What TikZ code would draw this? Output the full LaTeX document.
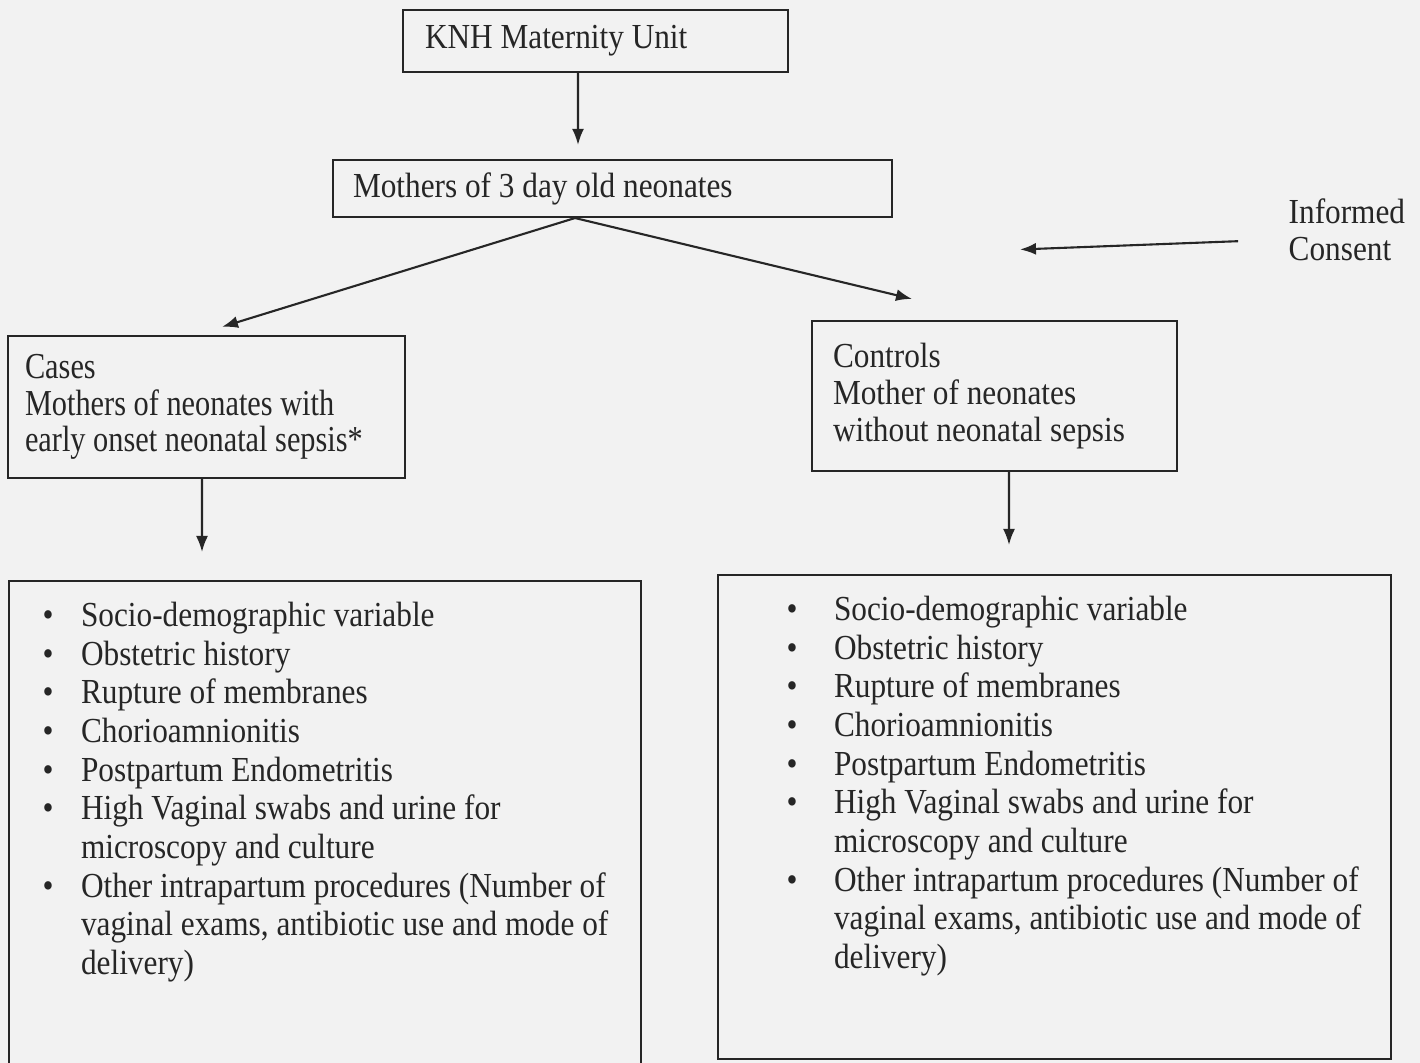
\documentclass[tikz,border=0pt]{standalone}
\usepackage{fontspec}
\setmainfont{Liberation Serif}[FakeStretch=0.89]
\newfontfamily\narrowfont{Liberation Serif}[FakeStretch=0.83]
\usetikzlibrary{arrows.meta,positioning,calc}

% bullet list: #1 left margin, #2 label sep, #3 items
\newcommand{\factorlist}[3]{%
  \begin{list}{\textbullet}{\setlength{\leftmargin}{#1}\setlength{\labelsep}{#2}%
    \settowidth{\labelwidth}{\textbullet}\setlength{\itemsep}{0pt}\setlength{\parsep}{0pt}%
    \setlength{\topsep}{0pt}\setlength{\partopsep}{0pt}}#3\end{list}}

\begin{document}
\begin{tikzpicture}[
    every node/.style={font=\fontsize{10}{10.5}\selectfont, text=black!85},
    box/.style={draw=black!85, line width=0.6pt, rectangle, align=flush left},
    listbox/.style={draw=black!85, line width=0.6pt, rectangle, inner sep=0pt,
      anchor=north west, font=\fontsize{10}{11}\selectfont},
    arr/.style={draw=black!85, line width=0.6pt, -{Latex[length=1.6mm,width=1.2mm]}}]
  \useasboundingbox[fill=black!5] (0,0) rectangle (14.2,10.63);
  % top of the flow
  \node[box, inner xsep=0.22cm, text width=3.41cm, minimum height=0.62cm] (knh) at (5.955,10.22) {KNH Maternity Unit};
  \node[box, inner xsep=0.2cm, text width=5.19cm, minimum height=0.57cm] (mothers) at (6.125,8.745) {Mothers of 3 day old neonates};
  % two groups
  \node[box, inner xsep=0.17cm, text width=3.63cm, minimum height=1.42cm,
    font=\narrowfont\fontsize{10.4}{10.4}\selectfont] (cases) at (2.065,6.56)
    {Cases\\Mothers of neonates with\\early onset neonatal sepsis*};
  \node[box, inner xsep=0.21cm, text width=3.23cm, minimum height=1.5cm] (controls) at (9.945,6.67)
    {Controls\\Mother of neonates\\without neonatal sepsis\\[-0.04cm]};
  \node[align=flush left, anchor=west, inner sep=0.05cm] (consent) at (12.83,8.335) {Informed\\Consent};
  % variables collected
  \node[listbox] (leftlist) at (0.08,4.83) {\parbox[t][5.4cm][t]{6.32cm}{\raggedright\vspace*{0.21cm}%
    \factorlist{0.72cm}{0.275cm}{%
      \item Socio-demographic variable
      \item Obstetric history
      \item Rupture of membranes
      \item Chorioamnionitis
      \item Postpartum Endometritis
      \item High Vaginal swabs and urine for\\microscopy and culture
      \item Other intrapartum procedures (Number of\\vaginal exams, antibiotic use and mode of\\delivery)}}};
  \node[listbox] (rightlist) at (7.17,4.89) {\parbox[t][4.84cm][t]{6.73cm}{\raggedright\vspace*{0.21cm}%
    \factorlist{1.16cm}{0.365cm}{%
      \item Socio-demographic variable
      \item Obstetric history
      \item Rupture of membranes
      \item Chorioamnionitis
      \item Postpartum Endometritis
      \item High Vaginal swabs and urine for\\microscopy and culture
      \item Other intrapartum procedures (Number of\\vaginal exams, antibiotic use and mode of\\delivery)}}};
  % arrows
  \draw[arr] ([xshift=-1.75mm]knh.south) -- ([xshift=-3.45mm,yshift=1.4mm]mothers.north);
  \draw[arr] ([xshift=-3.75mm]mothers.south) -- ([xshift=1.55mm,yshift=0.8mm]cases.north);
  \draw[arr] ([xshift=-3.75mm]mothers.south) -- ([xshift=-8.25mm,yshift=2.1mm]controls.north);
  \draw[arr] ([xshift=-0.45mm]cases.south) -- ($(cases.south |- leftlist.north)+(-0.045,0.28)$);
  \draw[arr] ([xshift=1.45mm]controls.south) -- ($(controls.south |- rightlist.north)+(0.145,0.29)$);
  \draw[arr, shorten <=0.45cm] ([yshift=-1mm]consent.west) -- ++(-2.63,-0.1);
\end{tikzpicture}
\end{document}
